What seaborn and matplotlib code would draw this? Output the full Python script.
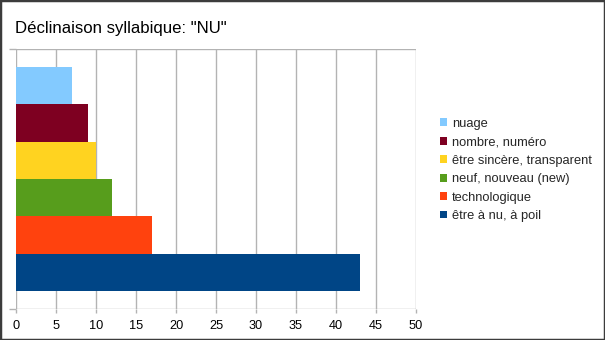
import matplotlib
matplotlib.use("Agg")
import matplotlib.pyplot as plt
import seaborn as sns
import pandas as pd
from matplotlib.patches import Patch

series = ["nuage", "nombre, numéro", "être sincère, transparent",
          "neuf, nouveau (new)", "technologique", "être à nu, à poil"]
values = [7, 9, 10, 12, 17, 43]
colors = ["#83CAFF", "#7E0021", "#FFD320", "#579D1C", "#FF420E", "#004586"]
xticks = [0, 5, 10, 15, 20, 25, 30, 35, 40, 45, 50]
title = 'Déclinaison syllabique: "NU"'

df = pd.DataFrame({"cat": [""] * len(series), "serie": series, "val": values})

sns.set_theme(style="white")
plt.rcParams["font.family"] = ["Liberation Sans", "DejaVu Sans"]

W, H = 605, 340
fig = plt.figure(figsize=(W / 100, H / 100), dpi=100)
ax = fig.add_axes([16 / W, 1 - 309 / H, 400 / W, 260 / H])

sns.barplot(data=df, x="val", y="cat", hue="serie", hue_order=series,
            palette=colors, orient="h", width=0.862, saturation=1,
            dodge=True, ax=ax, legend=False, linewidth=0)

ax.set_xlim(0, 50)
ax.set_ylim(0.5, -0.5)
ax.set_xticks(xticks)
ax.set_xticklabels([str(t) for t in xticks], fontsize=9.2, color="#000000")
ax.set_yticks([-0.5, 0.5])
ax.set_yticklabels(["", ""])
ax.set_xlabel("")
ax.set_ylabel("")
ax.grid(True, color="#b3b3b3", linewidth=1)
ax.set_axisbelow(True)
ax.tick_params(axis="x", length=3, width=1, color="#b3b3b3", pad=5, bottom=True)
ax.tick_params(axis="y", length=5, width=1, color="#b3b3b3", left=True)
for s in ax.spines.values():
    s.set_visible(False)

handles = [Patch(facecolor=c, edgecolor="none") for c in colors]
fig.legend(handles, series, loc="center left", bbox_to_anchor=(440 / W, 1 - 170 / H),
           bbox_transform=fig.transFigure, frameon=False, fontsize=9.3,
           handlelength=0.55, handleheight=0.55, handletextpad=0.4,
           labelspacing=0.5, borderpad=0, borderaxespad=0)

fig.text(15 / W, 1 - 33 / H, title, fontsize=12.1, va="baseline", ha="left", color="#000000")

fig.patches.append(plt.Rectangle((0, 0), 1, 1, transform=fig.transFigure,
                                 fill=False, edgecolor="#3c3c3c", linewidth=2.5))

fig.savefig("out.png", dpi=100)
